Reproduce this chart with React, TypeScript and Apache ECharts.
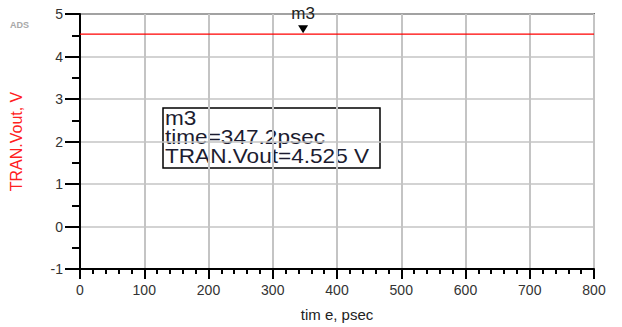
import React, { useEffect, useRef } from "react";
import * as echarts from "echarts";

const timeRange = [0, 800];
const voutValues = [4.525, 4.525];
const xTicks = [0, 100, 200, 300, 400, 500, 600, 700, 800];
const yTicks = [-1, 0, 1, 2, 3, 4, 5];
const markerName = "m3";
const markerTime = 347.2;
const markerValue = 4.525;

export default function App() {
  const ref = useRef<HTMLDivElement>(null);
  useEffect(() => {
    document.body.style.margin = "0";
    const chart = echarts.init(ref.current!, null, { renderer: "svg" });
    const font = "Liberation Sans, Arial, sans-serif";
    chart.setOption({
      animation: false,
      backgroundColor: "#fff",
      grid: {
        left: 78,
        right: 28,
        top: 14,
        bottom: 48,
        show: true,
        borderColor: "#000",
        borderWidth: 1.5,
      },
      xAxis: {
        type: "value",
        min: xTicks[0],
        max: xTicks[xTicks.length - 1],
        interval: 100,
        name: "tim e, psec",
        nameLocation: "middle",
        nameGap: 38,
        nameTextStyle: { color: "#222", fontSize: 15, fontFamily: font },
        axisLine: { show: true, onZero: false, lineStyle: { color: "#000", width: 2 } },
        axisTick: { show: true, length: 10, lineStyle: { color: "#000", width: 2 } },
        minorTick: { show: true, splitNumber: 5, length: 5, lineStyle: { color: "#000", width: 2 } },
        axisLabel: { color: "#333", fontSize: 14, fontFamily: font, margin: 14 },
        splitLine: { show: true, lineStyle: { color: "#c4c4c4", width: 2 } },
      },
      yAxis: {
        type: "value",
        min: yTicks[0],
        max: yTicks[yTicks.length - 1],
        interval: 1,
        name: "TRAN.Vout, V",
        nameLocation: "middle",
        nameGap: 56,
        nameTextStyle: { color: "#ff2020", fontSize: 16, fontFamily: font },
        axisLine: { show: true, onZero: false, lineStyle: { color: "#000", width: 2 } },
        axisTick: { show: true, length: 15, lineStyle: { color: "#000", width: 2 } },
        minorTick: { show: true, splitNumber: 2, length: 8, lineStyle: { color: "#000", width: 2 } },
        axisLabel: { color: "#333", fontSize: 14, fontFamily: font, margin: 17 },
        splitLine: { show: true, lineStyle: { color: "#c4c4c4", width: 1.5 } },
      },
      series: [
        {
          type: "line",
          data: timeRange.map((t, i) => [t, voutValues[i]]),
          showSymbol: false,
          lineStyle: { color: "#ff0000", width: 1.2 },
          markPoint: {
            symbol: "triangle",
            symbolRotate: 180,
            symbolSize: [10, 8],
            symbolOffset: [0, -5],
            itemStyle: { color: "#000" },
            label: {
              show: true,
              position: "top",
              distance: 3,
              formatter: markerName,
              color: "#222",
              fontSize: 17,
              fontFamily: font,
            },
            data: [{ coord: [markerTime, markerValue] }],
          },
        },
      ],
      graphic: [
        {
          type: "text",
          left: 10,
          top: 20,
          style: { text: "ADS", fill: "#a8a8a8", font: "bold 9px " + font },
        },
        {
          type: "group",
          x: 163,
          y: 108,
          children: [
            {
              type: "rect",
              shape: { x: 0, y: 0, width: 217, height: 60 },
              style: { fill: "#fff", stroke: "#000", lineWidth: 1.5 },
            },
            {
              type: "text",
              x: 2,
              y: 1,
              scaleX: 1.13,
              style: {
                text: `${markerName}\ntime=${markerTime}psec\nTRAN.Vout=${markerValue} V`,
                fill: "#1c1c30",
                font: "20px " + font,
                lineHeight: 19,
              },
            },
          ],
        },
      ],
    });
    return () => chart.dispose();
  }, []);
  return <div ref={ref} style={{ width: 622, height: 327 }} />;
}
